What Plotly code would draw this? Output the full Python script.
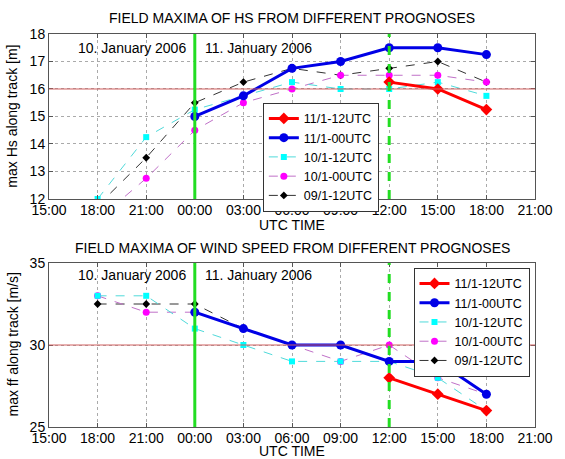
import plotly.graph_objects as go

# hours counted from 10 January 2006 00:00 UTC
hours = [18, 21, 24, 27, 30, 33, 36, 39, 42]
tick_vals = [15, 18, 21, 24, 27, 30, 33, 36, 39, 42, 45]
tick_text = ["15:00", "18:00", "21:00", "00:00", "03:00", "06:00",
             "09:00", "12:00", "15:00", "18:00", "21:00"]

# max Hs along track [m]
hs_11_12 = [None, None, None, None, None, None, 16.25, 16.0, 15.25]
hs_11_00 = [None, None, 15.0, 15.75, 16.75, 17.0, 17.5, 17.5, 17.25]
hs_10_12 = [12.0, 14.25, 15.25, 15.75, 16.25, 16.0, 16.0, 16.25, 15.75]
hs_10_00 = [11.25, 12.75, 14.5, 15.5, 16.0, 16.5, 16.5, 16.5, 16.25]
hs_09_12 = [11.75, 13.5, 15.5, 16.25, 16.75, 16.5, 16.75, 17.0, 16.25]

# max ff along track [m/s]
ff_11_12 = [None, None, None, None, None, None, 28, 27, 26]
ff_11_00 = [None, None, 32, 31, 30, 30, 29, 29, 27]
ff_10_12 = [33, 33, 31, 30, 29, 29, 29, 28, 26]
ff_10_00 = [33, 32, 32, 31, 30, 29, 30, 28, 27]
ff_09_12 = [32.5, 32.5, 32.5, 31, 30, 30, 29, 29, 27]

names = ["09/1-12UTC", "10/1-00UTC", "10/1-12UTC", "11/1-00UTC", "11/1-12UTC"]
styles = [
    dict(line=dict(color="#333333", width=1, dash="dash"),
         marker=dict(symbol="diamond", size=6, color="black")),
    dict(line=dict(color="#c070c8", width=1, dash="dash"),
         marker=dict(symbol="circle", size=7, color="#ff00ff")),
    dict(line=dict(color="#50dada", width=1, dash="dash"),
         marker=dict(symbol="square", size=6, color="#00ffff")),
    dict(line=dict(color="#0000e6", width=3),
         marker=dict(symbol="circle", size=9, color="#0000e6")),
    dict(line=dict(color="#ff0000", width=3),
         marker=dict(symbol="diamond", size=9, color="#ff0000")),
]

font = dict(family="Liberation Sans, Arial, sans-serif", size=14, color="black")
fig = go.Figure()

top = [hs_09_12, hs_10_00, hs_10_12, hs_11_00, hs_11_12]
bottom = [ff_09_12, ff_10_00, ff_10_12, ff_11_00, ff_11_12]
for n, s, ys in zip(names, styles, top):
    fig.add_trace(go.Scatter(x=hours, y=ys, name=n, mode="lines+markers",
                             xaxis="x", yaxis="y", legend="legend", **s))
for n, s, ys in zip(names, styles, bottom):
    fig.add_trace(go.Scatter(x=hours, y=ys, name=n, mode="lines+markers",
                             xaxis="x2", yaxis="y2", legend="legend2", **s))

ax = dict(showline=True, linecolor="#555555", linewidth=1, mirror="allticks",
          ticks="inside", ticklen=4, tickcolor="#555555",
          showgrid=True, gridcolor="#aaaaaa", griddash="dot", gridwidth=1,
          zeroline=False, tickfont=font)
xax = dict(ax, range=[15, 45], tickvals=tick_vals, ticktext=tick_text,
           ticklabelstandoff=-2)

shapes = []
for xr, yr, lvl in [("x", "y", 16), ("x2", "y2", 30)]:
    shapes.append(dict(type="line", xref=xr + " domain", yref=yr, x0=0, x1=1,
                       y0=lvl, y1=lvl, line=dict(color="#d06060", width=1)))
    shapes.append(dict(type="line", xref=xr, yref=yr + " domain", x0=24, x1=24,
                       y0=0, y1=1, line=dict(color="#22dd22", width=3)))
    shapes.append(dict(type="line", xref=xr, yref=yr + " domain", x0=36, x1=36,
                       y0=0, y1=1, line=dict(color="#22dd22", width=3, dash="dash")))

annotations = [
    dict(text="FIELD MAXIMA OF HS FROM DIFFERENT PROGNOSES", x=0.5, y=1.041),
    dict(text="FIELD MAXIMA OF WIND SPEED FROM DIFFERENT PROGNOSES", x=0.5, y=0.4555),
    dict(text="UTC TIME", x=0.5, y=0.514),
    dict(text="UTC TIME", x=0.5, y=-0.061),
    dict(text="max Hs along track [m]", x=-0.075, y=0.791, textangle=-90),
    dict(text="max ff along track [m/s]", x=-0.075, y=0.2087, textangle=-90),
]
for a in annotations:
    a.update(xref="paper", yref="paper", showarrow=False, font=font,
             xanchor="center", yanchor="middle")
for xr, yr, yv in [("x", "y", 17.49), ("x2", "y2", 34.27)]:
    annotations.append(dict(text="10. January 2006", x=23.6, y=yv, xref=xr, yref=yr,
                            showarrow=False, font=font, xanchor="right"))
    annotations.append(dict(text="11. January 2006", x=24.5, y=yv, xref=xr, yref=yr,
                            showarrow=False, font=font, xanchor="left"))

leg = dict(bgcolor="white", bordercolor="#333333", borderwidth=1,
           font=dict(font, size=12.5), tracegroupgap=0,
           traceorder="reversed", itemwidth=30, xanchor="left", yanchor="top")

fig.update_layout(
    width=565, height=459,
    margin=dict(l=49, r=19, t=34, b=32),
    paper_bgcolor="white", plot_bgcolor="white",
    font=font, showlegend=True,
    xaxis=dict(xax, domain=[0, 1], anchor="y"),
    yaxis=dict(ax, domain=[0.5802, 1], range=[12, 18], dtick=1, anchor="x"),
    xaxis2=dict(xax, domain=[0, 1], anchor="y2"),
    yaxis2=dict(ax, domain=[0, 0.4173], range=[25, 35], dtick=5, anchor="x2"),
    legend=dict(leg, x=0.44, y=0.825),
    legend2=dict(leg, x=0.75, y=0.405),
    shapes=shapes,
    annotations=annotations,
)

fig.write_html("out.html", config={"displayModeBar": False},
               post_script="document.body.style.margin='0px';")
